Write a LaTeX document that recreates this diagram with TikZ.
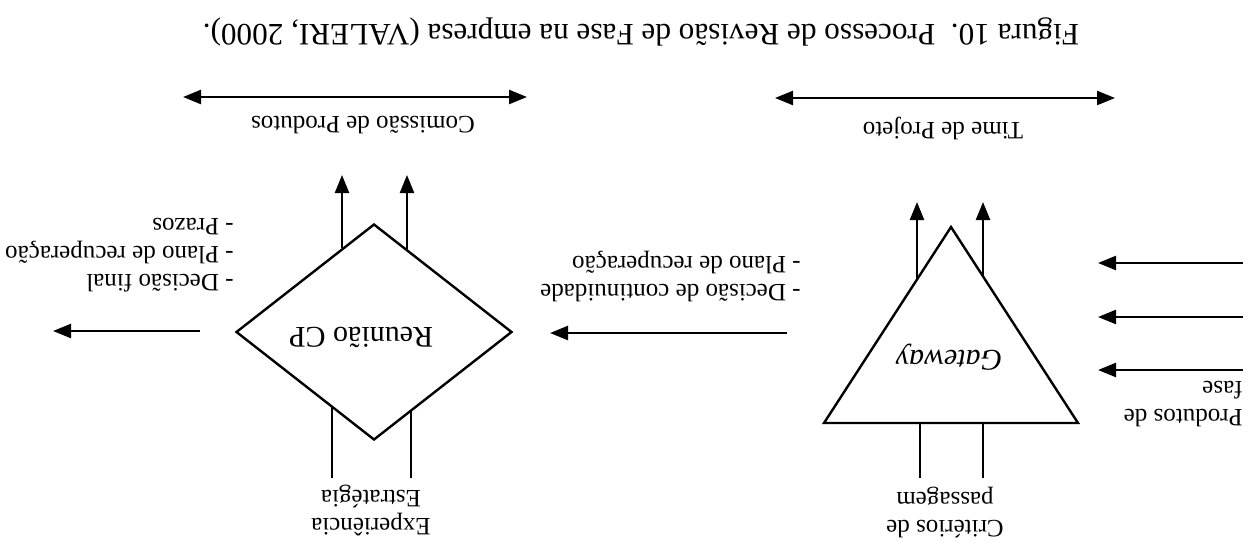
\documentclass[tikz,border=0pt]{standalone}
\usepackage{fontspec}
\setmainfont{Liberation Serif}
\usetikzlibrary{arrows.meta,shapes.geometric}

\begin{document}
\begin{tikzpicture}[
    x=0.5pt, y=-0.5pt,
    every node/.style={rotate=180, inner sep=0pt, font=\fontsize{12.5}{14}\selectfont},
    flow/.style={line width=1.2pt, -{Triangle[length=9pt, width=7pt]}},
    lane/.style={line width=1.2pt, {Triangle[length=9pt, width=7pt]}-{Triangle[length=9pt, width=7pt]}},
    feed/.style={line width=1.2pt},
    note/.style={align=left}
]
\useasboundingbox (0,0) rectangle (1253,541);

% Caption
\node[font=\fontsize{15.6}{18}\selectfont] (caption) at (641,32)
    {Figura 10.\ \ Processo de Revisão de Fase na empresa (VALERI, 2000).};

% Lanes
\coordinate (cpA) at (183,97);
\coordinate (cpB) at (527,97);
\coordinate (tpA) at (775,98);
\coordinate (tpB) at (1115,98);
\draw[lane] (cpA) -- (cpB);
\draw[lane] (tpA) -- (tpB);
\node (cplane) at (363,125) {Comissão de Produtos};
\node (tplane) at (943,129) {Time de Projeto};

% Gateway (triangle)
\coordinate (gwApex) at (951,227);
\coordinate (gwRight) at (1078,423);
\coordinate (gwLeft) at (824,423);
\draw[line width=1.2pt] (gwApex) -- (gwRight) -- (gwLeft) -- cycle;
\node[font=\fontsize{15}{18}\itshape] (gateway) at (949,357) {Gateway};

% Reuniao CP (diamond)
\node[draw, diamond, line width=1.2pt, minimum width=138pt, minimum height=108pt] (reuniao) at (374,332) {};
\node[font=\fontsize{15}{18}\selectfont] (reuniaotxt) at (361,337) {Reunião CP};

% Inputs: produtos de fase
\foreach \y [count=\i] in {263,317,370} {
    \coordinate (inA\i) at (1243,\y);
    \coordinate (inB\i) at (1098,\y);
    \draw[flow] (inA\i) -- (inB\i);
}
\node[note, anchor=west] (produtos) at (1243,404) {Produtos de\\fase};

% Gateway feeds and outputs
\foreach \x/\ya [count=\i] in {920/423,983/423} {
    \coordinate (gwF\i) at (\x,478);
    \coordinate (gwB\i) at (\x,\ya);
    \draw[feed] (gwF\i) -- (gwB\i);
}
\node[align=center] (criterios) at (945,512) {Critérios de\\passagem};
\coordinate (gwO1) at (917,278);
\coordinate (gwT1) at (917,202);
\coordinate (gwO2) at (983,276);
\coordinate (gwT2) at (983,202);
\draw[flow] (gwO1) -- (gwT1);
\draw[flow] (gwO2) -- (gwT2);

% Gateway -> Reuniao CP
\coordinate (midA) at (787,333);
\coordinate (midB) at (550,333);
\draw[flow] (midA) -- (midB);
\node[note, anchor=west] (continuidade) at (801,277)
    {- Decisão de continuidade\\- Plano de recuperação};

% Reuniao CP feeds and outputs
\coordinate (cpF1) at (332,478);
\coordinate (cpB1) at (332,407);
\coordinate (cpF2) at (411,478);
\coordinate (cpB2) at (411,411);
\draw[feed] (cpF1) -- (cpB1);
\draw[feed] (cpF2) -- (cpB2);
\node[align=center] (experiencia) at (371,510) {Experiência\\Estratégia};
\coordinate (cpO1) at (342,248);
\coordinate (cpT1) at (342,175);
\coordinate (cpO2) at (407,249);
\coordinate (cpT2) at (407,175);
\draw[flow] (cpO1) -- (cpT1);
\draw[flow] (cpO2) -- (cpT2);

% Reuniao CP -> saida
\coordinate (outA) at (200,331);
\coordinate (outB) at (53,331);
\draw[flow] (outA) -- (outB);
\node[note, anchor=west] (decisao) at (234,255)
    {- Decisão final\\- Plano de recuperação\\- Prazos};
\end{tikzpicture}
\end{document}
